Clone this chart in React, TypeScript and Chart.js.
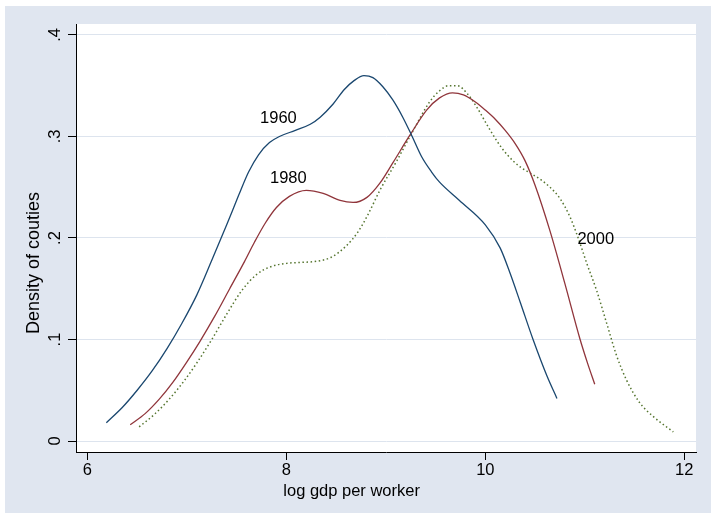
import { useEffect, useRef } from "react";
import { Chart, registerables } from "chart.js";

Chart.register(...registerables);

// ---- data ----
const xTicks = [6, 8, 10, 12];
const yTicks = [0, 0.1, 0.2, 0.3, 0.4];

const x1960 = [6.19, 6.35, 6.50, 6.65, 6.80, 6.95, 7.10, 7.25, 7.40, 7.52, 7.62, 7.72, 7.83, 7.93, 8.09, 8.24, 8.34, 8.47, 8.58, 8.68, 8.78, 8.87, 8.97, 9.07, 9.17, 9.26, 9.36, 9.46, 9.54, 9.74, 10.0, 10.15, 10.25, 10.35, 10.48, 10.62, 10.72];
const y1960 = [0.018, 0.033, 0.050, 0.069, 0.091, 0.116, 0.144, 0.178, 0.213, 0.242, 0.265, 0.282, 0.294, 0.300, 0.306, 0.312, 0.319, 0.332, 0.346, 0.355, 0.360, 0.358, 0.349, 0.336, 0.319, 0.301, 0.280, 0.265, 0.255, 0.237, 0.213, 0.190, 0.165, 0.137, 0.100, 0.064, 0.042];

const x1980 = [6.43, 6.58, 6.72, 6.86, 7.00, 7.13, 7.28, 7.43, 7.58, 7.68, 7.79, 7.90, 8.03, 8.20, 8.37, 8.54, 8.67, 8.81, 8.94, 9.07, 9.24, 9.41, 9.54, 9.67, 9.78, 9.90, 10.0, 10.1, 10.2, 10.3, 10.4, 10.5, 10.65, 10.80, 10.95, 11.03, 11.10];
const y1980 = [0.016, 0.027, 0.041, 0.058, 0.078, 0.098, 0.123, 0.150, 0.177, 0.196, 0.215, 0.230, 0.241, 0.247, 0.244, 0.237, 0.235, 0.240, 0.254, 0.274, 0.301, 0.326, 0.338, 0.343, 0.341, 0.334, 0.326, 0.317, 0.306, 0.293, 0.276, 0.252, 0.207, 0.155, 0.101, 0.076, 0.056];

const x2000 = [6.52, 6.67, 6.82, 6.97, 7.10, 7.25, 7.40, 7.55, 7.70, 7.85, 8.00, 8.15, 8.30, 8.45, 8.60, 8.72, 8.82, 8.94, 9.11, 9.27, 9.44, 9.54, 9.63, 9.72, 9.82, 9.92, 10.02, 10.12, 10.22, 10.35, 10.45, 10.55, 10.65, 10.75, 10.85, 10.93, 11.02, 11.12, 11.22, 11.32, 11.42, 11.55, 11.69, 11.89];
const y2000 = [0.014, 0.026, 0.041, 0.059, 0.077, 0.100, 0.125, 0.148, 0.164, 0.172, 0.175, 0.176, 0.177, 0.181, 0.192, 0.206, 0.223, 0.247, 0.276, 0.305, 0.334, 0.345, 0.350, 0.350, 0.342, 0.328, 0.311, 0.295, 0.282, 0.270, 0.264, 0.258, 0.250, 0.239, 0.221, 0.201, 0.175, 0.148, 0.116, 0.084, 0.060, 0.038, 0.024, 0.009];

const seriesNames = ["1960", "1980", "2000"];
const labelX = [7.92, 8.02, 11.11];
const labelY = [0.318, 0.2586, 0.1985];

const FONT = '"Liberation Sans", Arial, Helvetica, sans-serif';
const BG = "#e0e6f0";
const GRID = "#dde4ee";

function zip(xs: number[], ys: number[]) {
  return xs.map((x, i) => ({ x, y: ys[i] }));
}

const backgroundPlugin = {
  id: "stataBg",
  beforeDraw(chart: any) {
    const { ctx, chartArea: a, width, height } = chart;
    ctx.save();
    ctx.fillStyle = "#ffffff";
    ctx.fillRect(0, 0, width, height);
    ctx.fillStyle = BG;
    ctx.fillRect(5, 6, width - 5, height - 13);
    ctx.fillStyle = "#ffffff";
    ctx.fillRect(a.left, a.top, a.right - a.left, a.bottom - a.top);
    ctx.restore();
  },
};

const curveLabelPlugin = {
  id: "curveLabels",
  afterDatasetsDraw(chart: any) {
    const { ctx } = chart;
    const xs = chart.scales.x;
    const ys = chart.scales.y;
    ctx.save();
    ctx.font = `16.5px ${FONT}`;
    ctx.fillStyle = "#000000";
    ctx.textAlign = "center";
    ctx.textBaseline = "middle";
    seriesNames.forEach((name, i) => {
      ctx.fillText(name, xs.getPixelForValue(labelX[i]), ys.getPixelForValue(labelY[i]));
    });
    ctx.restore();
  },
};

export default function App() {
  const ref = useRef<HTMLCanvasElement | null>(null);

  useEffect(() => {
    if (!ref.current) return;
    const chart = new Chart(ref.current, {
      type: "line",
      data: {
        datasets: [
          {
            label: seriesNames[0],
            data: zip(x1960, y1960),
            borderColor: "#1a476f",
            borderWidth: 1.3,
            pointRadius: 0,
            fill: false,
            cubicInterpolationMode: "monotone",
          },
          {
            label: seriesNames[1],
            data: zip(x1980, y1980),
            borderColor: "#90353b",
            borderWidth: 1.3,
            pointRadius: 0,
            fill: false,
            cubicInterpolationMode: "monotone",
          },
          {
            label: seriesNames[2],
            data: zip(x2000, y2000),
            borderColor: "#55752f",
            borderWidth: 1.5,
            borderDash: [1.5, 2.6],
            pointRadius: 0,
            fill: false,
            cubicInterpolationMode: "monotone",
          },
        ],
      },
      options: {
        responsive: false,
        maintainAspectRatio: false,
        animation: false,
        layout: { padding: { left: 0, top: 24, right: 15, bottom: 0 } },
        plugins: {
          legend: { display: false },
          tooltip: { enabled: false },
        },
        scales: {
          x: {
            type: "linear",
            min: 5.885,
            max: 12.118,
            afterBuildTicks: (s: any) => {
              s.ticks = xTicks.map((v) => ({ value: v }));
            },
            afterFit: (s: any) => {
              s.height = 68;
            },
            ticks: {
              autoSkip: false,
              maxRotation: 0,
              minRotation: 0,
              padding: 1,
              color: "#000000",
              font: { family: FONT, size: 16.5 },
              callback: (v: any) => String(v),
            },
            grid: {
              display: true,
              drawOnChartArea: false,
              drawTicks: true,
              tickLength: 8,
              tickColor: "#000000",
              tickWidth: 1,
            },
            border: { display: true, color: "#000000", width: 1 },
            title: {
              display: true,
              text: "log gdp per worker" + " ".repeat(15),
              color: "#000000",
              font: { family: FONT, size: 16.5 },
              padding: { top: 0, bottom: 19 },
            },
          },
          y: {
            type: "linear",
            min: -0.0108,
            max: 0.4108,
            afterBuildTicks: (s: any) => {
              s.ticks = yTicks.map((v) => ({ value: v }));
            },
            afterFit: (s: any) => {
              s.width = 76;
            },
            ticks: {
              autoSkip: false,
              minRotation: 90,
              maxRotation: 90,
              crossAlign: "center",
              padding: 6,
              color: "#000000",
              font: { family: FONT, size: 16.5 },
              callback: (v: any) => (Math.abs(v) < 1e-9 ? "0" : "." + Math.round(v * 10)),
            },
            grid: {
              display: true,
              drawOnChartArea: true,
              color: GRID,
              lineWidth: 1,
              drawTicks: true,
              tickLength: 8,
              tickColor: "#000000",
              tickWidth: 1,
            },
            border: { display: true, color: "#000000", width: 1 },
            title: {
              display: true,
              text: "Density of couties" + " ".repeat(10),
              color: "#000000",
              font: { family: FONT, size: 18 },
              padding: { top: 23.7, bottom: 0 },
            },
          },
        },
      } as any,
      plugins: [backgroundPlugin, curveLabelPlugin],
    });
    return () => chart.destroy();
  }, []);

  return (
    <div style={{ position: "fixed", left: 0, top: 0, width: 711, height: 520, background: "#ffffff" }}>
      <canvas ref={ref} width={711} height={520} style={{ display: "block", width: 711, height: 520 }} />
    </div>
  );
}
